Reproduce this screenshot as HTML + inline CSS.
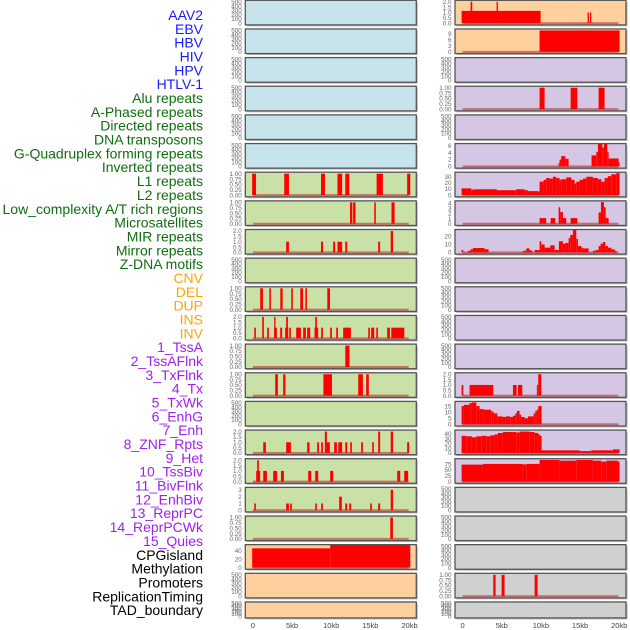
<!DOCTYPE html>
<html><head><meta charset="utf-8">
<style>
html,body{margin:0;padding:0;background:#fff;}
svg{display:block;font-family:"Liberation Sans",sans-serif;}
</style></head>
<body>
<svg id="chart" width="630" height="630" viewBox="0 0 630 630"></svg>
<script>
// ---- data ----
const trackLabels = ["AAV2","EBV","HBV","HIV","HPV","HTLV-1",
 "Alu repeats","A-Phased repeats","Directed repeats","DNA transposons","G-Quadruplex forming repeats","Inverted repeats","L1 repeats","L2 repeats","Low_complexity A/T rich regions","Microsatellites","MIR repeats","Mirror repeats","Z-DNA motifs",
 "CNV","DEL","DUP","INS","INV",
 "1_TssA","2_TssAFlnk","3_TxFlnk","4_Tx","5_TxWk","6_EnhG","7_Enh","8_ZNF_Rpts","9_Het","10_TssBiv","11_BivFlnk","12_EnhBiv","13_ReprPC","14_ReprPCWk","15_Quies",
 "CPGisland","Methylation","Promoters","ReplicationTiming","TAD_boundary"];
const labelGroups = [6,13,5,15,5];
const groupColors = ["#1a1aff","#0f6e0f","#ffa500","#a020f0","#000000"];
const xTicks = [0,5,10,15,20];
const xTickLabels = ["0","5kb","10kb","15kb","20kb"];

// segments: [startKb, endKb, value]
const segL6 = [[-0.1,0.4,1],[4.0,4.6,1],[8.7,9.2,1],[10.8,11.4,1],[11.8,12.3,1],[15.8,16.6,1],[19.7,20.1,1]];
const segL7 = [[12.4,12.7,1],[12.8,13.1,1],[15.5,15.7,1],[17.7,18.1,1]];
const segL8 = [[4.25,4.6,1],[8.7,8.95,1],[10.25,10.5,1],[10.8,11.4,1],[11.8,12.05,1],[16.0,16.25,1],[17.6,17.9,2]];
const segL10 = [[0.93,1.28,1],[2.1,2.3,1],[3.5,3.8,1],[4.9,5.1,1],[6.05,6.4,1],[6.7,6.9,1],[9.5,9.85,1]];
const segL11 = [[0.17,0.38,1],[1.19,1.4,2],[1.83,2.04,1],[2.72,3.06,1],[2.72,2.89,2],[3.49,3.74,1],[4.12,4.51,1],[4.25,4.47,2],[4.64,4.85,1],[5.53,6.13,1],[6.42,6.77,1],[6.93,7.32,1],[7.87,8.34,1],[7.96,8.17,2],[8.72,8.94,1],[9.87,10.09,1],[10.64,10.86,1],[11.53,12.51,1],[14.73,14.94,1],[15.1,15.5,1],[15.76,15.97,1],[17.15,17.5,1],[17.67,19.34,1]];
const segL12 = [[11.8,12.34,1]];
const segL13 = [[2.85,3.19,1],[3.87,4.16,1],[9.0,10.1,1],[13.45,14.05,1],[14.47,14.8,1]];
const segL15 = [[1.32,1.66,1],[4.25,4.85,1],[6.93,7.23,1],[8.21,8.43,1],[8.72,8.94,1],[9.19,9.45,2],[9.45,9.83,1],[10.38,10.73,1],[10.9,11.4,1],[11.8,12.05,1],[12.43,12.64,1],[13.83,14.05,1],[15.24,15.45,1],[16.0,16.25,2],[17.6,17.9,2],[19.7,19.96,1]];
const segL16 = [[0.42,0.93,1],[0.55,0.76,2],[1.32,1.79,1],[2.59,3.1,1],[3.58,3.96,1],[7.06,7.45,1],[7.96,8.34,1],[9.87,10.25,1],[18.43,18.82,1],[19.32,19.83,1]];
const segL17 = [[0.17,0.38,1],[4.25,4.6,1],[4.76,4.98,1],[7.96,8.17,1],[8.72,8.94,1],[11.02,11.36,2],[11.8,12.05,1],[12.3,12.55,1],[14.98,15.2,1],[16.0,16.25,1],[17.6,17.9,3]];
const segL18 = [[17.54,17.88,1]];
const segL19 = [[-0.09,9.87,46.5],[9.87,20.1,55]];

const segR0 = [[-0.13,9.96,1.15],[1.02,1.23,2],[4.34,4.51,2],[15.96,16.13,1],[16.26,16.43,1]];
const segR1 = [[9.83,20.05,10.6]];
const segR3 = [[9.83,10.47,1],[13.8,14.65,1],[17.37,18.13,1]];
const segR5 = [[12.26,12.39,1],[12.39,12.6,2],[12.6,13.11,3],[13.11,13.54,2.2],[16.47,17.07,3.2],[17.07,17.28,4.2],[17.28,17.84,6.5],[17.84,18.05,5.5],[18.05,18.48,6.5],[18.48,18.65,4.2],[18.65,19.93,2.3],[19.93,20.05,1.2]];
const segR6 = [[-0.13,1.11,11],[1.11,1.53,9],[1.53,4.38,9.5],[4.38,6.85,8],[6.85,7.92,9.5],[7.92,8.34,8],[8.34,9.7,6.5],[9.7,9.83,6],[9.83,10.34,22],[10.34,10.68,25],[10.68,11.11,28],[11.11,11.53,27],[11.53,11.96,30],[11.96,12.39,28],[12.39,12.6,25],[12.6,13.24,26],[13.24,13.88,29],[13.88,14.3,25],[14.3,14.52,19],[14.52,14.94,22],[14.94,15.37,25],[15.37,15.8,27],[15.8,16.64,30],[16.64,17.28,28],[17.28,17.71,26],[17.71,18.14,22],[18.14,18.56,28],[18.56,18.99,31],[18.99,19.63,34],[19.63,20.05,36]];
const segR7 = [[9.83,10.68,1.1],[11.24,11.84,1.1],[12.26,12.47,3.2],[12.47,12.81,2.3],[12.81,13.24,1.1],[13.79,14.65,1.1],[17.37,17.67,2.2],[17.67,18.05,4.2],[18.05,18.27,3.2],[18.27,18.65,1.1]];
const segR8 = [[-0.13,0.09,3],[0.68,1.02,2],[1.02,1.32,4],[1.32,2.81,5.5],[2.81,3.32,4],[7.7,8.13,2],[8.13,8.56,5],[8.56,8.9,2.5],[9.2,9.83,3],[9.83,10.05,14],[10.05,10.47,10],[10.47,11.2,6],[11.2,11.75,9],[11.75,12.3,3],[12.3,12.81,14],[12.81,13.11,11],[13.11,13.54,12],[13.54,13.75,18],[13.75,14.09,22],[14.09,14.52,29],[14.52,14.73,17],[14.73,15.16,8],[15.16,15.37,6],[15.37,16.1,5],[16.64,16.98,2],[16.98,17.37,3],[17.37,17.62,8],[17.62,17.92,11],[17.92,18.22,13],[18.22,18.56,8],[18.56,18.99,6],[18.99,19.42,4],[19.42,19.63,2]];
const segR13 = [[-0.13,0.09,1],[0.89,3.92,1],[6.43,6.9,1],[7.07,7.62,1],[9.49,9.66,1],[9.66,10.05,2]];
const segR14 = [[-0.13,0.17,15],[0.17,0.89,16],[0.89,1.19,17.5],[1.19,1.75,18],[1.75,2.17,15],[2.17,2.72,12.5],[2.72,3.66,12],[3.66,3.96,10.5],[3.96,4.43,9],[4.43,5.15,6.5],[5.15,5.49,6],[5.49,6.09,6.5],[6.09,6.43,6],[6.43,6.73,7],[6.73,6.94,9],[6.94,7.28,11],[7.28,7.49,8],[7.49,7.92,6],[7.92,8.34,5],[8.34,9.07,6.5],[9.07,9.28,9],[9.28,9.49,11],[9.49,9.66,12],[9.66,10.09,15]];
const segR15 = [[-0.13,0.47,36],[0.47,1.19,35],[1.19,1.75,33],[1.75,2.38,35],[2.38,3.02,36],[3.02,3.54,35],[3.54,4.09,37],[4.09,4.51,39],[4.51,5.15,42],[5.15,6.85,44],[6.85,7.28,43],[7.28,8.56,45],[8.56,9.2,44],[9.2,9.62,42],[9.62,9.83,40],[9.83,10.09,36],[10.09,14.94,5.5],[14.94,16.43,4],[16.43,19.2,5.5],[19.2,20.05,7.5]];
const segR16 = [[-0.13,2.6,73],[2.6,7.7,76],[7.7,8.13,74],[8.13,9.83,76],[9.83,12.39,93],[12.39,14.52,90],[14.52,16.64,93],[16.64,17.71,90],[17.71,18.35,86],[18.35,19.84,90],[19.84,20.05,86]];
const segR20 = [[3.92,4.21,1],[4.98,5.36,1],[9.2,9.58,1]];

const emptyTicks = [0,100,200,300,400,500];
const t100 = [0,0.25,0.5,0.75,1];
const t2 = [0,0.5,1,1.5,2];

// panel specs: [col, row, bg, ymax, ticks, decimals, segments]
const B="#c7e3eb",G="#c9e1a6",O="#fed09e",P="#d5c6e3",Y="#d0d0d0";
const panels = [
 [0,0,B,500,emptyTicks,0,null],[0,1,B,500,emptyTicks,0,null],[0,2,B,500,emptyTicks,0,null],[0,3,B,500,emptyTicks,0,null],[0,4,B,500,emptyTicks,0,null],[0,5,B,500,emptyTicks,0,null],
 [0,6,G,1,t100,2,segL6],[0,7,G,1,t100,2,segL7],[0,8,G,2,t2,1,segL8],[0,9,G,500,emptyTicks,0,null],[0,10,G,1,t100,2,segL10],[0,11,G,2,t2,1,segL11],
 [0,12,G,1,t100,2,segL12],[0,13,G,1,t100,2,segL13],[0,14,G,500,emptyTicks,0,null],[0,15,G,2,t2,1,segL15],[0,16,G,2,t2,1,segL16],[0,17,G,3.15,[0,1,2,3],0,segL17],
 [0,18,G,1,t100,2,segL18],[0,19,O,51.8,[0,20,40],0,segL19],[0,20,O,500,emptyTicks,0,null],[0,21,O,500,emptyTicks,0,null],
 [1,0,O,2,t2,1,segR0],[1,1,O,10.6,[0,3,6,9],0,segR1],[1,2,P,500,emptyTicks,0,null],[1,3,P,1,t100,2,segR3],[1,4,P,500,emptyTicks,0,null],[1,5,P,6.2,[0,2,4,6],0,segR5],
 [1,6,P,35,[0,10,20,30],0,segR6],[1,7,P,4.15,[0,1,2,3,4],0,segR7],[1,8,P,27,[0,10,20],0,segR8],[1,9,P,500,emptyTicks,0,null],[1,10,P,500,emptyTicks,0,null],[1,11,P,500,emptyTicks,0,null],
 [1,12,P,500,emptyTicks,0,null],[1,13,P,2,t2,1,segR13],[1,14,P,17.6,[0,5,10,15],0,segR14],[1,15,P,45,[0,10,20,30,40],0,segR15],[1,16,P,92,[0,25,50,75],0,segR16],
 [1,17,Y,500,emptyTicks,0,null],[1,18,Y,500,emptyTicks,0,null],[1,19,Y,500,emptyTicks,0,null],[1,20,Y,1,t100,2,segR20],[1,21,Y,500,emptyTicks,0,null]
];

// ---- drawing ----
const NS="http://www.w3.org/2000/svg";
const svg=document.getElementById('chart');
function mk(tag,attrs,parent){const e=document.createElementNS(NS,tag);for(const k in attrs)e.setAttribute(k,attrs[k]);(parent||svg).appendChild(e);return e;}
const colX=[245.3,455];
const boxW=171;
function rowTop(r){return 0.3+28.65*r;}
function rowH(r){return r===21?16:24.6;}
function xScale(col,kb){return colX[col]+7.6+kb*7.83;}

// labels
let gi=0,cnt=0;
trackLabels.forEach((t,i)=>{
  while(cnt>=labelGroups[gi]){gi++;cnt=0;}
  cnt++;
  const el=mk('text',{x:203,y:15+i*13.84+5,'text-anchor':'end','font-size':'14',fill:groupColors[gi]});
  el.textContent=t;
  
  
});

const defs=mk('defs',{});
panels.forEach((p,idx)=>{
  const [col,row,bg,ymax,ticks,dec,segs]=p;
  const top=rowTop(row),h=rowH(row),x0=colX[col];
  const g=mk('g',{});
  
  
  const yTop=top+1.5, yZero=top+h-1.7;
  const yS=v=>yZero-(v/ymax)*(yZero-yTop);
  // shadow + bg
  mk('rect',{x:x0+1.5,y:top+1.5,width:boxW,height:h,fill:'#bbb'},g);
  const bgR=mk('rect',{x:x0,y:top,width:boxW,height:h,fill:bg},g);
  
  
  const cp=mk('clipPath',{id:'cp'+idx},defs);
  mk('rect',{x:x0,y:top,width:boxW,height:h},cp);
  const plot=mk('g',{'clip-path':'url(#cp'+idx+')'},g);
  if(segs){
    const base=mk('rect',{x:xScale(col,0),y:yZero-1,width:xScale(col,19.9)-xScale(col,0),height:2,fill:'rgba(190,30,30,0.55)'},plot);
    
    
    const sorted=segs.slice().sort((a,b)=>a[2]-b[2]);
    sorted.forEach(s=>{
      const xa=xScale(col,s[0]),xb=xScale(col,s[1]);
      const yv=yS(s[2]);
      const r=mk('rect',{x:xa,y:yv,width:Math.max(1,xb-xa),height:yZero-yv,fill:'#ff0000'},plot);
      
      
    });
  }
  mk('rect',{x:x0,y:top,width:boxW,height:h,fill:'none',stroke:'#555',"stroke-width":1.3},g);
  // y ticks
  ticks.forEach(t=>{
    const tl=mk('text',{x:x0-3.5,y:yS(t)+2.2,'text-anchor':'end','font-size':'6.3',fill:'#666'},g);
    tl.textContent=t.toFixed(dec);
    
    
  });
});

// x axes
[0,1].forEach(col=>{
  xTicks.forEach((v,i)=>{
    const t=mk('text',{x:xScale(col,v),y:628,'text-anchor':'middle','font-size':'7.5',fill:'#444'});
    t.textContent=xTickLabels[i];
    
    
  });
});
</script>
</body></html>
